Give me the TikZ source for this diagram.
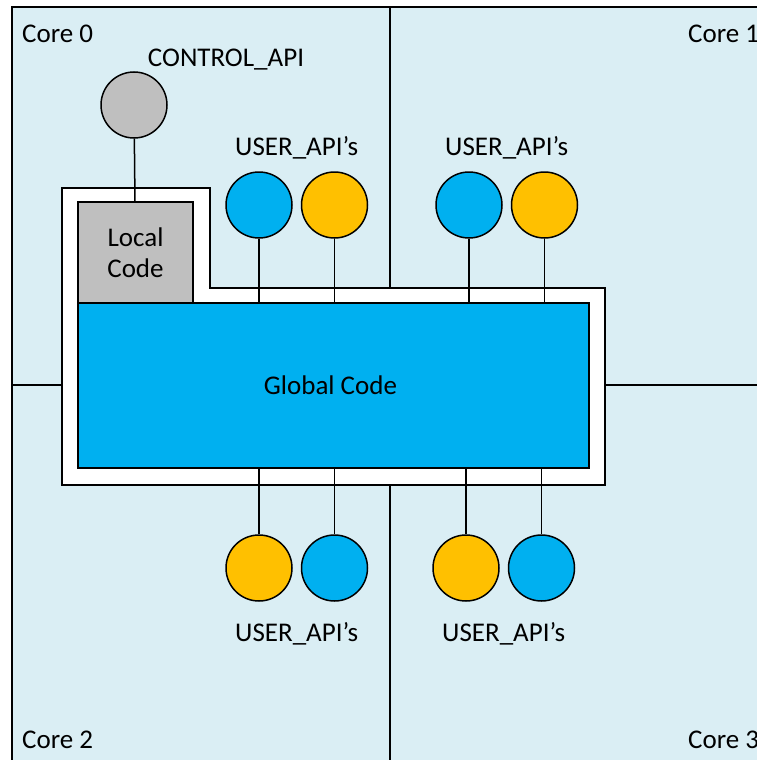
\documentclass[tikz,border=0pt]{standalone}
\usepackage{fontspec}
\setmainfont{Carlito}
\usetikzlibrary{positioning,calc}
\definecolor{corebg}{RGB}{218,238,244}
\definecolor{apiblue}{RGB}{0,176,240}
\definecolor{apiyellow}{RGB}{255,192,0}
\definecolor{apigrey}{RGB}{191,191,191}
\def\apisize{66pt}
\def\apigap{74pt}

\begin{document}
\begin{tikzpicture}[
            x=1pt, y=-1pt,
            every node/.style={font=\fontsize{27}{31}\selectfont},
            core/.style={inner sep=0pt, anchor=west},
            api/.style={%
                circle, draw=black, line width=1.5pt,%
                minimum size=\apisize, inner sep=0pt%
            },
            bluapi/.style={api, fill=apiblue},
            yelapi/.style={api, fill=apiyellow},
            ctlapi/.style={api, fill=apigrey},
            codebox/.style={%
                rectangle, draw=black, line width=1.5pt,%
                align=center, inner sep=0pt%
            },
            link/.style={line width=1.5pt}
        ]
        \useasboundingbox (0,0) rectangle (757,760);
        \clip (0,0) rectangle (757,760);

        % Cores
        \draw [link, fill=corebg] (12,7) rectangle (800,800);
        \draw [link] (390,7) -- (390,800);
        \draw [link] (12,385) -- (800,385);
        \draw [link, fill=white]
            (62,188) -- (210,188) -- (210,288) -- (605,288)
            -- (605,485) -- (62,485) -- cycle;

        \node (core0) [core] at (22,34) {Core 0};
        \node (core1) [core] at (688,34) {Core 1};
        \node (core2) [core] at (22,740) {Core 2};
        \node (core3) [core] at (688,740) {Core 3};

        % Code blocks
        \node (global) [codebox, fill=apiblue,
            minimum width=511pt, minimum height=165pt] at (333.5,385.5) {%
            Global Code
        };
        \node (local) [codebox, fill=apigrey,
            minimum width=115pt, minimum height=101pt] at (135.5,252.5) {%
            Local\\Code
        };

        % API's
        \node (ctl) [ctlapi] at (134,105) {};
        \node [above=-2pt of ctl, xshift=92pt] {CONTROL\_API};

        \node (ua1) [bluapi] at (259,205) {};
        \node (ua2) [yelapi, right=\apigap-\apisize of ua1] {};
        \node (ua3) [bluapi] at (469,205) {};
        \node (ua4) [yelapi, right=\apigap-\apisize of ua3] {};

        \node (la1) [yelapi] at (259,568) {};
        \node (la2) [bluapi, right=\apigap-\apisize of la1] {};
        \node (la3) [yelapi] at (466,568) {};
        \node (la4) [bluapi, right=\apigap-\apisize of la3] {};

        \path (ua1) -- (ua2) coordinate[midway] (ua12);
        \path (ua3) -- (ua4) coordinate[midway] (ua34);
        \path (la1) -- (la2) coordinate[midway] (la12);
        \path (la3) -- (la4) coordinate[midway] (la34);

        \node [above=9pt of ua12, yshift=\apisize/2] {USER\_API’s};
        \node [above=9pt of ua34, yshift=\apisize/2] {USER\_API’s};
        \node [below=18pt of la12, yshift=-\apisize/2] {USER\_API’s};
        \node [below=18pt of la34, yshift=-\apisize/2] {USER\_API’s};

        % Links
        \draw [link] (ctl) -- (local);
        \foreach \a in {ua1,ua2,ua3,ua4} {
            \draw [link] (\a) -- (\a |- global.north);
        }
        \foreach \a in {la1,la2,la3,la4} {
            \draw [link] (\a) -- (\a |- global.south);
        }

\end{tikzpicture}
\end{document}
